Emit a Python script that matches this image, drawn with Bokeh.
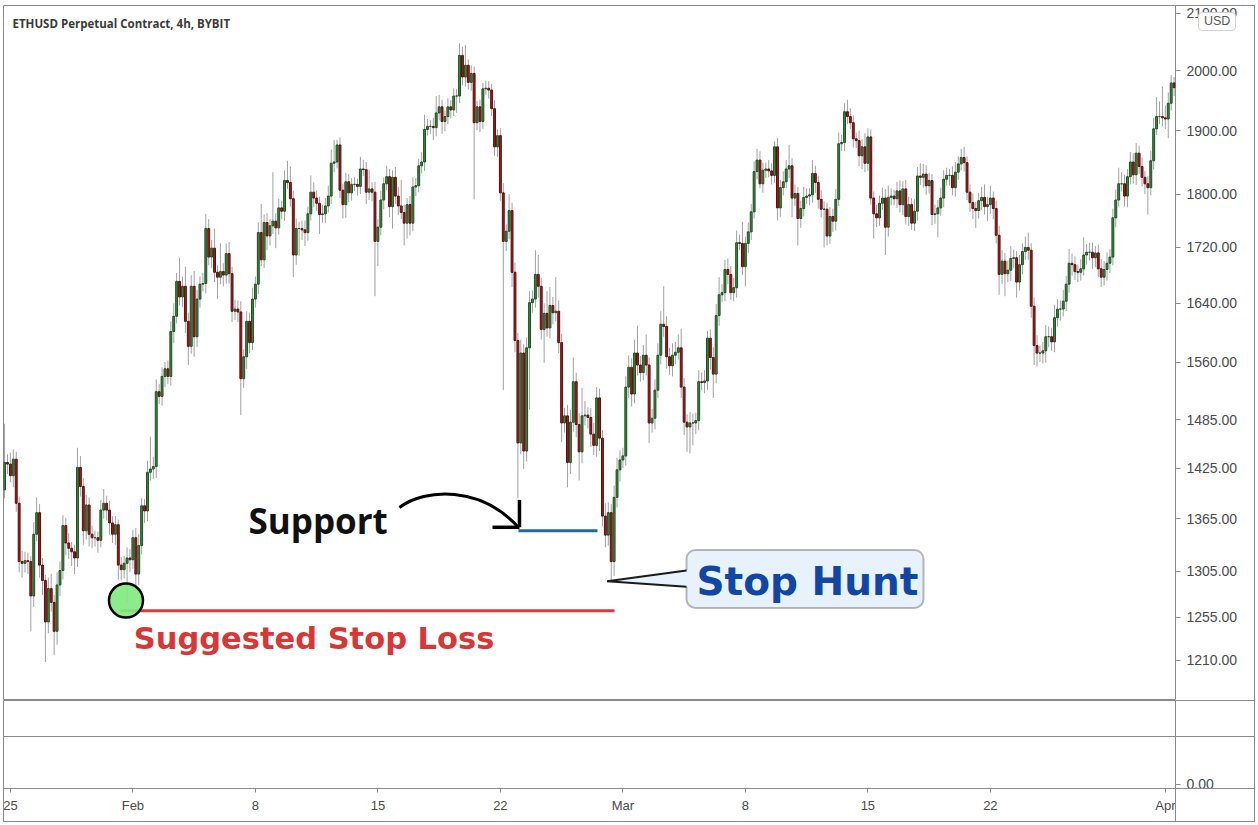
import numpy as np
import pandas as pd
from bokeh.plotting import figure
from bokeh.layouts import column
from bokeh.models import (Range1d, FixedTicker, PrintfTickFormatter, Label, Span,
                          BoxAnnotation, ColumnDataSource, Div)
from bokeh.embed import file_html
from bokeh.resources import INLINE

# ---------------- data (ETHUSD 4h candles) ----------------
start_time = "2021-01-24 16:00"
first_open = 1399

close = [
    1432, 1430, 1416, 1436, 1383, 1316, 1314, 1317, 1316, 1278,
    1347, 1372, 1312, 1295, 1250, 1286, 1271, 1240, 1290, 1306,
    1357, 1337, 1331, 1327, 1320, 1426, 1403, 1351, 1381, 1347,
    1343, 1343, 1340, 1375, 1383, 1375, 1360, 1347, 1358, 1312,
    1307, 1314, 1320, 1318, 1343, 1302, 1334, 1380, 1374, 1420,
    1424, 1427, 1521, 1515, 1541, 1551, 1541, 1601, 1622, 1671,
    1649, 1664, 1615, 1581, 1664, 1594, 1646, 1667, 1668, 1748,
    1706, 1719, 1684, 1677, 1685, 1680, 1711, 1682, 1629, 1632,
    1628, 1538, 1567, 1615, 1586, 1646, 1667, 1742, 1702, 1757,
    1737, 1752, 1759, 1749, 1779, 1774, 1821, 1818, 1793, 1709,
    1748, 1748, 1746, 1742, 1770, 1803, 1794, 1786, 1769, 1770,
    1782, 1797, 1848, 1850, 1877, 1806, 1784, 1819, 1802, 1815,
    1815, 1812, 1839, 1838, 1803, 1808, 1803, 1729, 1750, 1791,
    1816, 1827, 1781, 1826, 1797, 1782, 1772, 1756, 1784, 1756,
    1811, 1813, 1844, 1850, 1902, 1907, 1907, 1905, 1929, 1939,
    1915, 1923, 1939, 1934, 1957, 1957, 2026, 1989, 2009, 1980,
    1995, 1913, 1939, 1915, 1969, 1970, 1967, 1936, 1874, 1892,
    1802, 1729, 1744, 1775, 1684, 1589, 1456, 1572, 1446, 1579,
    1641, 1646, 1681, 1664, 1604, 1626, 1606, 1637, 1627, 1629,
    1586, 1481, 1490, 1432, 1482, 1534, 1479, 1445, 1490, 1491,
    1488, 1467, 1453, 1513, 1462, 1368, 1346, 1372, 1316, 1390,
    1423, 1435, 1440, 1527, 1553, 1518, 1572, 1556, 1546, 1569,
    1556, 1481, 1487, 1523, 1569, 1611, 1608, 1567, 1555, 1569,
    1573, 1579, 1527, 1482, 1476, 1481, 1481, 1484, 1534, 1533,
    1535, 1592, 1566, 1544, 1623, 1652, 1655, 1688, 1681, 1655,
    1662, 1727, 1726, 1692, 1726, 1743, 1773, 1835, 1853, 1816,
    1837, 1839, 1836, 1829, 1874, 1779, 1810, 1819, 1839, 1844,
    1794, 1801, 1763, 1778, 1795, 1797, 1799, 1832, 1818, 1792,
    1777, 1777, 1737, 1766, 1759, 1792, 1879, 1881, 1931, 1923,
    1913, 1887, 1884, 1860, 1874, 1848, 1890, 1794, 1770, 1764,
    1786, 1794, 1750, 1795, 1797, 1793, 1805, 1784, 1808, 1766,
    1784, 1756, 1774, 1828, 1826, 1831, 1813, 1821, 1769, 1770,
    1779, 1794, 1823, 1829, 1829, 1810, 1834, 1847, 1857, 1849,
    1803, 1787, 1778, 1775, 1790, 1795, 1781, 1784, 1794, 1778,
    1738, 1681, 1700, 1682, 1687, 1704, 1705, 1670, 1695, 1714,
    1720, 1716, 1636, 1582, 1572, 1572, 1575, 1594, 1594, 1587,
    1620, 1632, 1632, 1643, 1667, 1697, 1695, 1685, 1684, 1689,
    1709, 1713, 1713, 1705, 1712, 1689, 1677, 1688, 1697, 1706,
    1764, 1791, 1816, 1816, 1797, 1827, 1850, 1830, 1864, 1843,
    1826, 1816, 1810, 1852, 1903, 1923, 1923, 1921, 1919, 1945,
    1979, 1971,
]

# wick lengths (USD) above the body top / below the body bottom
upper_wick = [
    48, 10, 14, 12, 9, 8, 12, 10, 9, 6,
    14, 18, 10, 8, 6, 12, 16, 8, 14, 10,
    12, 9, 11, 7, 8, 24, 14, 10, 12, 9,
    10, 8, 7, 12, 17, 9, 11, 8, 10, 6,
    9, 8, 12, 10, 9, 11, 13, 9, 8, 14,
    40, 12, 16, 10, 12, 9, 11, 14, 18, 12,
    34, 14, 28, 12, 16, 22, 13, 11, 15, 22,
    14, 12, 29, 10, 41, 12, 15, 17, 10, 13,
    12, 15, 10, 14, 12, 16, 11, 15, 43, 12,
    14, 10, 75, 12, 14, 11, 16, 31, 25, 12,
    15, 10, 12, 14, 11, 26, 15, 12, 10, 14,
    12, 16, 22, 35, 8, 12, 10, 14, 12, 10,
    11, 9, 19, 14, 12, 30, 10, 16, 12, 14,
    10, 17, 12, 11, 16, 14, 40, 12, 10, 13,
    15, 12, 11, 16, 24, 12, 10, 14, 28, 20,
    12, 10, 14, 11, 13, 12, 21, 15, 35, 10,
    14, 12, 10, 12, 10, 13, 12, 10, 14, 11,
    12, 15, 10, 25, 12, 14, 10, 18, 12, 14,
    16, 12, 35, 28, 12, 14, 31, 26, 12, 48,
    15, 12, 10, 14, 16, 32, 12, 14, 36, 18,
    10, 12, 14, 14, 12, 10, 15, 12, 10, 14,
    15, 12, 10, 14, 16, 12, 18, 37, 12, 14,
    28, 10, 12, 14, 16, 18, 53, 14, 12, 16,
    14, 18, 26, 12, 10, 14, 12, 10, 15, 12,
    14, 10, 12, 14, 16, 25, 12, 14, 16, 12,
    14, 18, 12, 32, 10, 14, 12, 16, 18, 14,
    12, 10, 14, 12, 9, 14, 12, 16, 14, 33,
    12, 14, 10, 12, 16, 12, 10, 21, 12, 10,
    14, 12, 10, 14, 12, 16, 18, 12, 14, 20,
    14, 12, 10, 16, 12, 22, 14, 12, 10, 14,
    12, 16, 14, 18, 12, 10, 14, 16, 12, 14,
    12, 10, 18, 14, 20, 16, 14, 12, 10, 14,
    12, 16, 14, 12, 10, 14, 16, 12, 14, 17,
    10, 12, 14, 10, 12, 16, 20, 12, 19, 10,
    12, 14, 16, 12, 14, 18, 12, 10, 14, 12,
    16, 22, 10, 12, 14, 10, 12, 16, 14, 12,
    18, 14, 12, 16, 12, 21, 14, 12, 10, 14,
    26, 12, 14, 14, 10, 12, 14, 12, 16, 12,
    14, 16, 25, 18, 14, 12, 16, 14, 16, 12,
    14, 10, 12, 16, 18, 32, 25, 50, 20, 18,
    13, 10,
]

lower_wick = [
    10, 12, 8, 14, 10, 12, 16, 10, 14, 38,
    12, 8, 14, 16, 42, 12, 10, 25, 14, 12,
    10, 14, 12, 16, 18, 10, 12, 16, 10, 14,
    12, 10, 14, 8, 10, 12, 14, 10, 12, 16,
    12, 10, 43, 14, 10, 16, 12, 10, 14, 12,
    10, 12, 14, 10, 12, 14, 10, 12, 16, 10,
    12, 14, 16, 25, 10, 27, 14, 12, 10, 14,
    12, 16, 14, 31, 10, 16, 12, 14, 15, 12,
    14, 47, 12, 16, 14, 10, 12, 14, 9, 12,
    21, 14, 12, 30, 10, 12, 14, 10, 12, 32,
    14, 40, 15, 20, 12, 10, 14, 12, 29, 12,
    14, 10, 12, 14, 10, 12, 21, 20, 14, 12,
    10, 14, 12, 10, 18, 12, 14, 79, 36, 12,
    14, 10, 16, 33, 12, 14, 10, 33, 23, 18,
    12, 14, 10, 12, 14, 10, 12, 20, 14, 12,
    20, 16, 12, 14, 10, 28, 12, 14, 16, 12,
    14, 121, 12, 17, 12, 10, 14, 12, 14, 16,
    12, 206, 14, 12, 21, 16, 67, 14, 22, 13,
    81, 14, 12, 16, 14, 45, 12, 14, 16, 12,
    14, 24, 12, 30, 14, 12, 16, 35, 14, 12,
    14, 16, 12, 14, 16, 12, 14, 12, 22, 16,
    12, 14, 10, 12, 14, 16, 12, 14, 12, 10,
    14, 25, 12, 14, 10, 12, 14, 16, 12, 14,
    12, 10, 14, 16, 31, 33, 28, 14, 12, 10,
    14, 12, 16, 31, 12, 14, 10, 12, 14, 10,
    12, 14, 10, 12, 28, 14, 12, 10, 12, 7,
    14, 12, 10, 14, 12, 19, 14, 12, 10, 14,
    29, 12, 40, 14, 12, 10, 14, 12, 16, 14,
    12, 57, 14, 12, 16, 14, 10, 12, 14, 12,
    10, 14, 12, 16, 21, 14, 12, 10, 37, 14,
    12, 10, 41, 14, 12, 10, 14, 12, 16, 12,
    14, 10, 12, 14, 12, 16, 14, 12, 16, 14,
    35, 12, 14, 10, 16, 12, 14, 12, 10, 14,
    12, 14, 16, 26, 12, 14, 12, 22, 14, 16,
    12, 29, 14, 32, 12, 16, 14, 22, 12, 14,
    12, 14, 16, 26, 18, 12, 14, 16, 14, 12,
    14, 12, 16, 10, 14, 12, 16, 12, 14, 12,
    10, 14, 12, 16, 14, 12, 14, 12, 16, 14,
    12, 14, 10, 12, 16, 17, 12, 14, 16, 12,
    14, 16, 41, 12, 14, 10, 12, 14, 16, 31,
    12, 14,
]

price_ticks = [1210, 1255, 1305, 1365, 1425, 1485, 1560, 1640, 1720, 1800, 1900, 2000, 2100]
date_ticks = ["2021-01-25", "2021-02-01", "2021-02-08", "2021-02-15", "2021-02-22",
              "2021-03-01", "2021-03-08", "2021-03-15", "2021-03-22", "2021-04-01"]
date_labels = ["25", "Feb", "8", "15", "22", "Mar", "8", "15", "22", "Apr"]

title_text = "ETHUSD Perpetual Contract, 4h, BYBIT"
currency_text = "USD"
stop_loss_price = 1262
support_price = 1351

# ---------------- helpers ----------------
def ms(s):
    return int(pd.Timestamp(s).value // 10**6)

n = len(close)
t = pd.date_range(start_time, periods=n, freq="4h")
c = np.array(close, dtype=float)
o = np.concatenate([[first_open], c[:-1]])
top = np.maximum(o, c)
bot = np.minimum(o, c)
hi = top + np.array(upper_wick, dtype=float)
lo = bot - np.array(lower_wick, dtype=float)
up = c >= o
fill = np.where(up, "#3b8a3f", "#a11c1c")
edge = np.where(up, "#1f4d22", "#5a0f0f")

src = ColumnDataSource(dict(t=t, top=top, bot=bot, hi=hi, lo=lo, fill=fill, edge=edge))

W = 1255
GREY = "#8a8a8a"

# ---------------- price pane ----------------
p = figure(width=W, height=700, x_axis_type="datetime", y_axis_type="log",
           x_range=Range1d(ms("2021-01-24 14:32"), ms("2021-04-01 13:55")),
           y_range=Range1d(1169, 2114), y_axis_location="right", x_axis_location=None,
           toolbar_location=None, output_backend="svg", title=None)
p.min_border_left = 3
p.min_border_right = 80
p.min_border_top = 5
p.min_border_bottom = 0
p.outline_line_color = GREY
p.grid.visible = False
p.background_fill_color = "white"
p.border_fill_color = "white"

ay = p.yaxis[0]
ay.ticker = FixedTicker(ticks=price_ticks)
ay.formatter = PrintfTickFormatter(format="%.2f")
ay.major_label_text_font = "Liberation Sans"
ay.major_label_text_font_size = "14px"
ay.major_label_text_color = "#4a4a4a"
ay.major_tick_out = 5
ay.major_tick_in = 0
ay.major_tick_line_color = GREY
ay.minor_tick_line_color = None
ay.axis_line_color = None
ay.major_label_standoff = 6

body_w = 0.65 * 4 * 3600 * 1000
p.segment(x0="t", y0="hi", x1="t", y1="lo", source=src, line_color="#a0a0a0", line_width=1)
p.vbar(x="t", width=body_w, top="top", bottom="bot", source=src,
       fill_color="fill", line_color="edge", line_width=1)

# ---- annotations ----
# suggested stop loss line + circle
p.line(x=[ms("2021-01-31 07:00"), ms("2021-02-28 12:30")], y=[stop_loss_price, stop_loss_price],
       line_color="#e0393b", line_width=3)
p.scatter(x=[ms("2021-01-31 14:30")], y=[1273], size=34, marker="circle",
          fill_color="#80ea80", fill_alpha=0.9, line_color="black", line_width=2.5)
p.add_layout(Label(x=ms("2021-02-01 01:10"), y=1232, text="Suggested Stop Loss",
                   text_font="DejaVu Sans", text_font_style="bold", text_font_size="30.5px",
                   text_color="#d93636", text_baseline="alphabetic"))

# support line + curved arrow
p.line(x=[ms("2021-02-23 00:45"), ms("2021-02-27 13:10")], y=[support_price, support_price],
       line_color="#1f6aa5", line_width=3)
p.bezier(x0=[ms("2021-02-16 05:30")], y0=[1378],
         cx0=[ms("2021-02-17 17:15")], cy0=[1401],
         cx1=[ms("2021-02-20 20:40")], cy1=[1404],
         x1=[ms("2021-02-23 00:45")], y1=[1355],
         line_color="black", line_width=3)
p.multi_line(xs=[[ms("2021-02-23 02:10"), ms("2021-02-23 02:10")],
                 [ms("2021-02-21 13:10"), ms("2021-02-23 02:10")]],
             ys=[[1387, 1355], [1355, 1355]], line_color="black", line_width=3.5)
p.add_layout(Label(x=ms("2021-02-07 14:30"), y=1363, text="Support",
                   text_font="Open Sans", text_font_style="bold", text_font_size="35px",
                   text_color="#111111", text_baseline="alphabetic"))

# stop hunt callout
p.add_layout(BoxAnnotation(left=ms("2021-03-04 15:13"), right=ms("2021-03-18 04:19"),
                           top=1329, bottom=1265, fill_color="#e8f2fd", fill_alpha=1,
                           line_color="#1a1a1a", line_width=2, border_radius=9,
                           level="underlay"))
p.patch(x=[ms("2021-03-04 19:20"), ms("2021-02-28 02:28"), ms("2021-03-04 19:20")],
        y=[1306, 1294, 1288], fill_color="#e8f2fd", line_color=None)
p.multi_line(xs=[[ms("2021-03-04 15:13"), ms("2021-02-28 02:28")],
                 [ms("2021-02-28 02:28"), ms("2021-03-04 15:13")]],
             ys=[[1306, 1294], [1294, 1288]], line_color="#1a1a1a", line_width=2)
p.add_layout(Label(x=ms("2021-03-05 05:00"), y=1294, text="Stop Hunt",
                   text_font="DejaVu Sans", text_font_style="bold", text_font_size="39px",
                   text_color="#1146a3", text_baseline="alphabetic"))

# chart title
p.add_layout(Label(x=9, y=677, x_units="screen", y_units="screen", text=title_text,
                   text_font="Open Sans", text_font_style="bold", text_font_size="11.5px",
                   text_color="#3a3a3a", text_baseline="alphabetic"))

# ---------------- lower pane with time axis ----------------
s = figure(width=W, height=122, x_range=p.x_range, y_range=Range1d(-0.05, 1),
           x_axis_type="datetime", y_axis_location="right",
           toolbar_location=None, output_backend="svg", title=None)
s.min_border_left = 3
s.min_border_right = 80
s.min_border_top = 0
s.min_border_bottom = 34
s.outline_line_color = GREY
s.grid.visible = False
s.add_layout(Span(location=0.5705, dimension="width", line_color=GREY, line_width=1))

tick_ms = [ms(d) for d in date_ticks]
ax = s.xaxis[0]
ax.ticker = FixedTicker(ticks=tick_ms)
ax.major_label_overrides = {k: v for k, v in zip(tick_ms, date_labels)}
ax.major_label_text_font = "Liberation Sans"
ax.major_label_text_font_size = "13px"
ax.major_label_text_color = "#4a4a4a"
ax.major_tick_out = 4
ax.major_tick_in = 0
ax.major_tick_line_color = GREY
ax.minor_tick_line_color = None
ax.axis_line_color = None
ax.major_label_standoff = 5

ay2 = s.yaxis[0]
ay2.ticker = FixedTicker(ticks=[0])
ay2.formatter = PrintfTickFormatter(format="%.2f")
ay2.major_label_text_font = "Liberation Sans"
ay2.major_label_text_font_size = "14px"
ay2.major_label_text_color = "#4a4a4a"
ay2.major_tick_out = 5
ay2.major_tick_in = 0
ay2.major_tick_line_color = GREY
ay2.minor_tick_line_color = None
ay2.axis_line_color = None
ay2.major_label_standoff = 6

# ---------------- overlay decorations (price-scale tag and pane borders) ----------------
def rule(left, top_, width, height):
    return Div(text="", width=width, height=height, margin=0,
               styles={"position": "absolute", "left": f"{left}px", "top": f"{top_}px",
                       "background-color": GREY, "z-index": "4"})

usd = Div(text=currency_text, margin=0,
          styles={"position": "absolute", "left": "1198px", "top": "12px", "z-index": "6",
                  "font-family": "Liberation Sans", "font-size": "12.5px", "color": "#555555",
                  "background-color": "white", "border": "1px solid #d2d2d2",
                  "border-radius": "4px", "padding": "1px 5px", "line-height": "15px"})

decor = [
    rule(1175, 5, 80, 1),     # top edge over the price scale
    rule(1254, 5, 1, 817),    # right edge
    rule(3, 821, 1252, 1),    # bottom edge
    rule(1175, 700, 80, 1),   # pane separators across the price scale
    rule(1175, 736, 80, 1),
    rule(1175, 788, 80, 1),
    rule(1175, 788, 1, 34),   # price-scale divider in the time-axis row
    rule(3, 788, 1, 34),      # left edge in the time-axis row
]

layout = column([p, s] + decor + [usd], spacing=0)

open("out.html", "w").write(file_html(layout, INLINE))
